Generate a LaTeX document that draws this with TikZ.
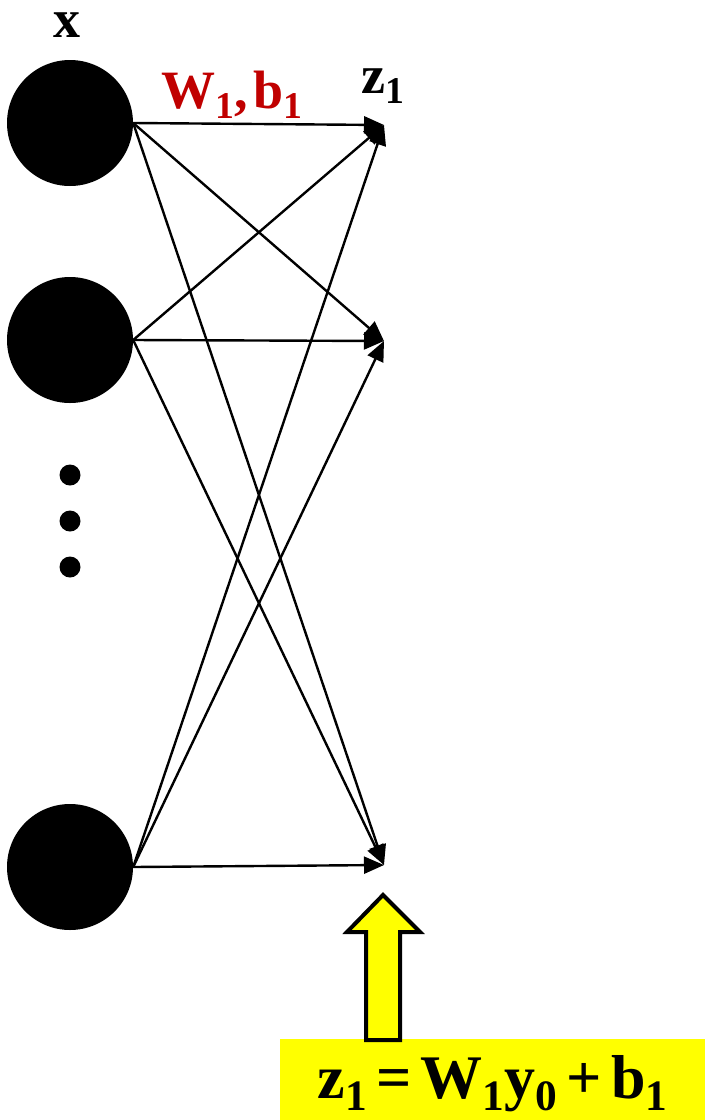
\documentclass[tikz,border=0pt]{standalone}
\usepackage{fontspec}
\setmainfont{Liberation Serif}
\usepackage{graphicx}
\usepackage{tikz}
\usetikzlibrary{arrows.meta}
\definecolor{WeightRed}{HTML}{C00000}
\definecolor{NoteYellow}{HTML}{FFFF00}
\newcommand{\lowidx}[1]{\raisebox{-0.2em}{\scalebox{0.7}{#1}}}

\begin{document}
\begin{tikzpicture}[x=1pt, y=-1pt,
  unit/.style={circle, fill=black, minimum size=126pt, inner sep=0pt},
  dotnode/.style={circle, fill=black, minimum size=21pt, inner sep=0pt},
  link/.style={-{Triangle[length=20pt, width=17pt]}, line width=2.4pt, draw=black},
  label/.style={font=\fontsize{54}{64}\selectfont\bfseries, inner sep=0pt, anchor=base}
]
\useasboundingbox (0,0) rectangle (705,1120);
% input layer
\node[unit] (x1) at (70,123) {};
\node[unit] (x2) at (70,340) {};
\node[unit] (xn) at (70,867) {};
\node[dotnode] (d1) at (70,475) {};
\node[dotnode] (d2) at (70,521) {};
\node[dotnode] (d3) at (70,567) {};
% targets of the first layer
\coordinate (z1) at (384,125);
\coordinate (z2) at (384,341);
\coordinate (zn) at (384,865);
% labels
\node[label] (xlab) at (67,37) {x};
\node[label] (zlab) at (383,93) {z\lowidx{1}};
\node[label, text=WeightRed] (wlab) at (232,108)
  {W\lowidx{1},\hspace{0.1em}b\lowidx{1}};
% weights
\draw[link] (x1.east) -- (z1);
\draw[link] (x1.east) -- (z2);
\draw[link] (x1.east) -- (zn);
\draw[link] (x2.east) -- (z1);
\draw[link] (x2.east) -- (z2);
\draw[link] (x2.east) -- (zn);
\draw[link] (xn.east) -- (z1);
\draw[link] (xn.east) -- (z2);
\draw[link] (xn.east) -- (zn);
% equation box
\node[fill=NoteYellow, minimum width=425pt, inner xsep=0pt, inner ysep=0pt,
      text height=59pt, text depth=22pt,
      font=\fontsize{62}{72}\selectfont\bfseries] (eqbox) at (492.5,1079.5)
  {z\lowidx{1}\hspace{0.15em}=\hspace{0.15em}W\lowidx{1}y\lowidx{0}\hspace{0.15em}+\hspace{0.15em}b\lowidx{1}};
\draw[line width=4pt, fill=NoteYellow, line join=miter]
  (383,895) -- (420,932) -- (400,932) -- (400,1040) -- (366,1040)
  -- (366,932) -- (347,932) -- cycle;
\end{tikzpicture}
\end{document}
